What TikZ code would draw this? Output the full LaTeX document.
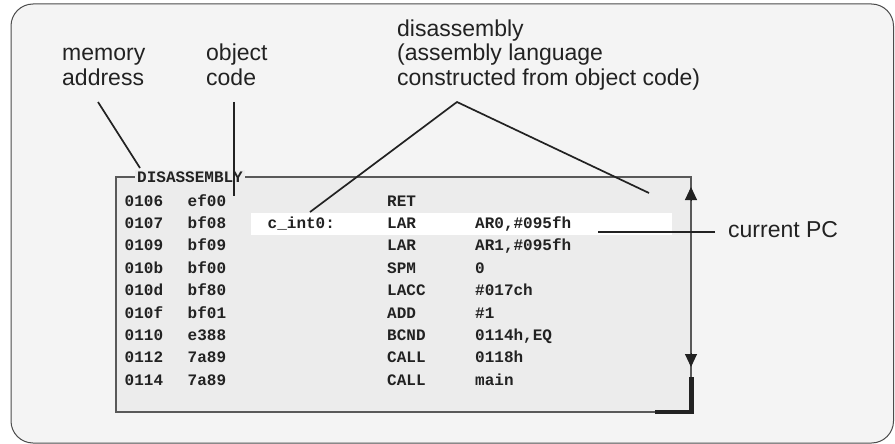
\documentclass[tikz,border=0pt]{standalone}
\usepackage{fontspec}
\setmainfont{Liberation Sans}
\newfontfamily\codefont{Liberation Mono}
\usetikzlibrary{arrows.meta}
\definecolor{pagegray}{HTML}{F4F4F4}
\definecolor{panelgray}{HTML}{ECECEC}
\definecolor{inkgray}{HTML}{222222}

\begin{document}
\begin{tikzpicture}[x=1pt, y=-1pt,
  callout/.style={font=\fontsize{23}{24.5}\selectfont, text=inkgray, align=left, inner sep=0pt, anchor=base west},
  code/.style={font=\codefont\bfseries\fontsize{16}{16}\selectfont, text=inkgray, inner sep=0pt, anchor=base west},
  leader/.style={line width=1.7pt, draw=inkgray},
  tip/.style={line width=1pt, draw=inkgray, -{Triangle[width=12pt,length=13pt]}}]
  % Page and window frame
  \useasboundingbox (0,0) rectangle (895,444);
  \fill[white] (0,0) rectangle (895,444);
  \draw[fill=pagegray, draw=black!70, line width=1pt, rounded corners=22pt] (11,4) rectangle (893.5,443);

  % Disassembly window
  \draw[fill=panelgray, draw=black!65, line width=1.2pt] (116,177) rectangle (691,412);
  \fill[white] (251,213) rectangle (672,235);

  % Listing rows
  \foreach \adr/\obj/\lbl/\mne/\opd [count=\r] in {
    {0106/ef00//RET/},
    {0107/bf08/c\_int0:/LAR/AR0,\#095fh},
    {0109/bf09//LAR/AR1,\#095fh},
    {010b/bf00//SPM/0},
    {010d/bf80//LACC/\#017ch},
    {010f/bf01//ADD/\#1},
    {0110/e388//BCND/0114h,EQ},
    {0112/7a89//CALL/0118h},
    {0114/7a89//CALL/main}}{
    \pgfmathsetmacro{\yb}{206+22.4*(\r-1)}
    \node[code] (adr\r) at (124.5,\yb) {\adr};
    \node[code] (obj\r) at (187.5,\yb) {\obj};
    \node[code] (lbl\r) at (267.5,\yb) {\lbl};
    \node[code] (mne\r) at (387,\yb) {\mne};
    \node[code] (opd\r) at (475,\yb) {\opd};
  }

  % Window title over the frame
  \node[code, fill=panelgray, inner xsep=2pt, inner ysep=1pt] (title) at (135,182) {DISASSEMBLY};

  % Scroll bar
  \draw[tip] (691,201) -- (691,187);
  \draw[tip] (691,353) -- (691,367);
  \draw[line width=4.5pt, draw=inkgray] (691.5,377) -- (691.5,412) -- (655,412);

  % Callouts (base = last line)
  \node[callout] (memlbl) at (62,85) {memory\\address};
  \node[callout] (objlbl) at (206,85) {object\\code};
  \node[callout] (dislbl) at (397,85) {disassembly\\(assembly language\\constructed from object code)};
  \node[callout] (pclbl) at (728,237) {current PC};

  \coordinate (memfoot) at (98,102);
  \coordinate (memtip) at (140,168);
  \coordinate (objfoot) at (234,102);
  \coordinate (objtip) at (234,196);
  \coordinate (disfoot) at (457,102);
  \coordinate (distipl) at (310,212);
  \coordinate (distipr) at (649,193);
  \coordinate (pcfoot) at (715,232);
  \coordinate (pctip) at (598,232);

  \draw[leader] (memfoot) -- (memtip);
  \draw[leader] (objfoot) -- (objtip);
  \draw[leader] (distipl) -- (disfoot) -- (distipr);
  \draw[leader, line width=1.5pt] (pcfoot) -- (pctip);
\end{tikzpicture}
\end{document}
